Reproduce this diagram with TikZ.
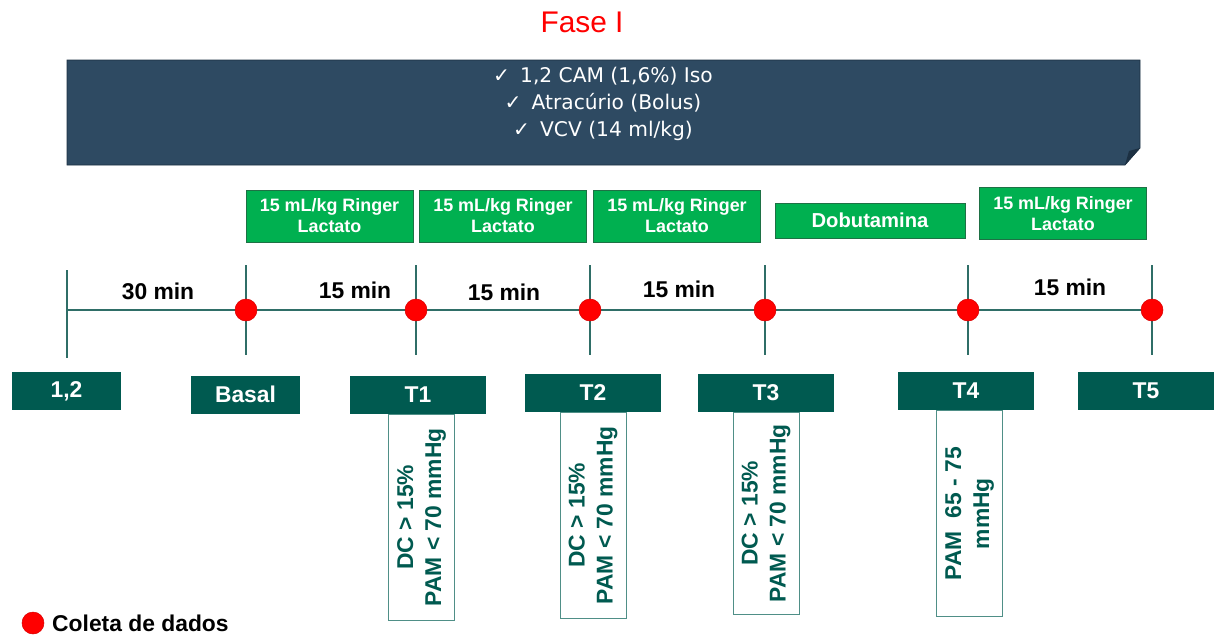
\documentclass[tikz,border=0pt]{standalone}
\usepackage{fontspec}
\setmainfont{Liberation Sans}
\newfontfamily\bannerfont{DejaVu Sans}
\usetikzlibrary{positioning}
\definecolor{banner}{HTML}{2E4A62}
\definecolor{bannerdk}{HTML}{1C3042}
\definecolor{fluid}{HTML}{00B050}
\definecolor{fluiddk}{HTML}{1E7145}
\definecolor{petrol}{HTML}{005A50}
\definecolor{axiscol}{HTML}{2F6E67}
\definecolor{condbd}{HTML}{4F8F87}
\begin{document}
\begin{tikzpicture}[x=0.02cm,y=-0.02cm,
  fluidbox/.style={draw=fluiddk,fill=fluid,text=white,align=center,minimum width=3.34cm,minimum height=1.04cm,inner sep=1pt,font=\fontsize{10.2}{12}\selectfont\bfseries},
  tbox/.style={fill=petrol,text=white,minimum width=2.72cm,minimum height=0.76cm,inner sep=1pt,font=\fontsize{13}{15}\selectfont\bfseries},
  condbox/.style={draw=condbd,fill=white,minimum width=1.32cm,minimum height=4.12cm},
  condtxt/.style={rotate=90,text=petrol,align=center,font=\fontsize{13}{16}\selectfont\bfseries},
  sample/.style={circle,fill=red,draw=red!85!black,line width=0.3pt,minimum size=0.44cm,inner sep=0pt},
  mintxt/.style={font=\fontsize{13}{15}\selectfont\bfseries}]
  \useasboundingbox (0,0) rectangle (1216,637);
  % title and protocol banner
  \node[text=red,font=\fontsize{17}{20}\selectfont] (fase) at (582,22) {Fase I};
  \fill[banner,draw=bannerdk,line width=0.4pt] (67,60) -- (1140,60) -- (1140,148) -- (1125,165) -- (67,165) -- cycle;
  \fill[bannerdk] (1125,165) -- (1129,151) -- (1140,148) -- cycle;
  \node[text=white,align=center,font=\bannerfont\fontsize{11.5}{15.3}\selectfont] (prot) at (603,104)
    {✓\enspace 1,2 CAM (1,6\%) Iso\\✓\enspace Atracúrio (Bolus)\\✓\enspace VCV (14 ml/kg)};
  % interventions
  \node[fluidbox] (rl1) at (329.5,216) {15 mL/kg Ringer\\Lactato};
  \node[fluidbox] (rl2) at (503,216) {15 mL/kg Ringer\\Lactato};
  \node[fluidbox] (rl3) at (677,216) {15 mL/kg Ringer\\Lactato};
  \node[fluidbox,minimum width=3.8cm,minimum height=0.7cm,font=\fontsize{11.5}{13}\selectfont\bfseries] (dobu) at (870,220.5) {Dobutamina};
  \node[fluidbox] (rl4) at (1063,213.5) {15 mL/kg Ringer\\Lactato};
  % timeline
  \draw[axiscol,line width=0.9pt] (67,270) -- (67,358);
  \draw[axiscol,line width=0.9pt] (67,310) -- (1152,310);
  \foreach \x/\n in {246/b,416/1,590/2,765/3,968/4,1152/5}{
    \draw[axiscol,line width=0.9pt] (\x,265) -- (\x,355);
    \node[sample] (s\n) at (\x,310) {};
  }
  \node[mintxt] (d0) at (158,291) {30 min};
  \node[mintxt] (d1) at (355,290) {15 min};
  \node[mintxt] (d2) at (504,292) {15 min};
  \node[mintxt] (d3) at (679,289) {15 min};
  \node[mintxt] (d5) at (1070,287) {15 min};
  % time points
  \node[tbox,minimum width=2.18cm] (t0) at (66.5,391) {\raisebox{2pt}{1,2}};
  \node[tbox,minimum width=2.18cm] (tb) at (245.5,394.5) {Basal};
  \node[tbox] (t1) at (418,394.5) {T1};
  \node[tbox] (t2) at (593,392.5) {T2};
  \node[tbox] (t3) at (766,392.5) {T3};
  \node[tbox] (t4) at (966,391) {T4};
  \node[tbox] (t5) at (1146,391) {T5};
  % targets
  \node[condbox,below=0pt of t1,xshift=2pt] (c1) {};
  \node[condtxt] at (c1) {DC > 15\%\\PAM < 70 mmHg};
  \node[condbox,below=0pt of t2] (c2) {};
  \node[condtxt] at (c2) {DC > 15\%\\PAM < 70 mmHg};
  \node[condbox,below=0pt of t3,minimum height=4.04cm] (c3) {};
  \node[condtxt] at (c3) {DC > 15\%\\PAM < 70 mmHg};
  \node[condbox,below=0pt of t4,xshift=2pt] (c4) {};
  \node[condtxt] at (c4) {PAM\ \ 65 - 75\\mmHg};
  % legend
  \node[sample] (leg) at (33,623) {};
  \node[mintxt,right=1pt of leg] (legtxt) {Coleta de dados};
\end{tikzpicture}
\end{document}
